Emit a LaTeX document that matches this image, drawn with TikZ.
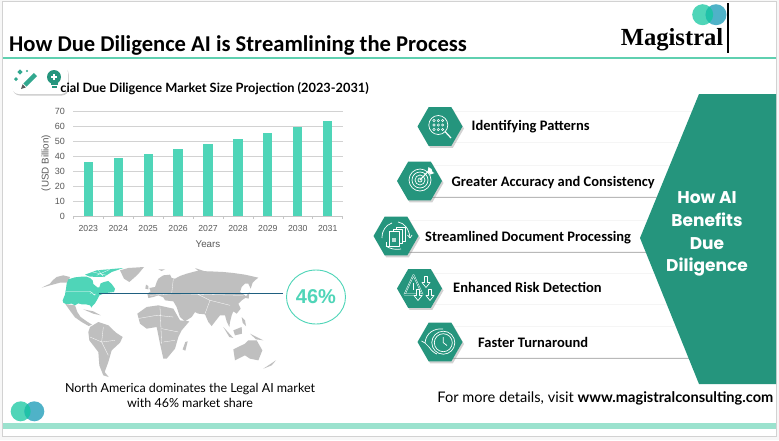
\documentclass[tikz,border=0pt]{standalone}
\usepackage{fontspec}
\setmainfont{Lato}
\newfontfamily\headfont{Carlito}
\newfontfamily\logofont{Liberation Serif}
\newfontfamily\chartfont{Liberation Sans}
\newfontfamily\sidefont{Poppins}
\usetikzlibrary{positioning,shapes.geometric,shadows}
\definecolor{mint}{HTML}{4FD5B8}
\definecolor{deepteal}{HTML}{25957D}
\definecolor{skyteal}{HTML}{4FB2C8}
\definecolor{overlapteal}{HTML}{20C2A8}
\definecolor{ruleteal}{HTML}{5FD0B0}
\definecolor{palemint}{HTML}{9BE2CE}
\definecolor{mapgray}{HTML}{BFBFBF}
\definecolor{tickgray}{HTML}{595959}
\definecolor{leadblue}{HTML}{1F6080}
\tikzstyle{hexbadge} = [regular polygon,regular polygon sides=6,minimum size=45pt,inner sep=0pt,fill=deepteal,drop shadow={shadow xshift=1.5pt,shadow yshift=-2pt,opacity=.35}]
\tikzstyle{rowbar} = [rectangle,anchor=west,fill=white,draw=gray!8,minimum height=31pt,inner sep=0pt,drop shadow={shadow xshift=0pt,shadow yshift=-1.4pt,opacity=.55}]
\tikzstyle{rowlabel} = [anchor=base west,inner sep=0pt,font=\headfont\bfseries\fontsize{14.5}{16}\selectfont]
\tikzstyle{yeartick} = [anchor=center,inner sep=0pt,text=tickgray,font=\chartfont\fontsize{8.7}{10}\selectfont]
\tikzstyle{axisname} = [inner sep=0pt,text=tickgray,font=\chartfont\fontsize{9.8}{11}\selectfont]
\tikzstyle{iconline} = [draw=white,line width=.7pt,line join=round]
\tikzstyle{land} = [fill=mapgray]
\tikzstyle{border} = [draw=white,line width=.3pt]
\begin{document}
\begin{tikzpicture}[x=1pt,y=-1pt]
   \useasboundingbox (0,0) rectangle (779,440);
   \fill[black!3] (0,0) rectangle (779,440);
   \draw[gray!35,fill=white,line width=.9pt] (2.5,1.5) rectangle (776.5,436.5);

   \node[anchor=base west,inner sep=0pt,font=\headfont\bfseries\fontsize{22.6}{26}\selectfont] (title) at (9,51) {How Due Diligence AI is Streamlining the Process};
   \fill[ruleteal] (3,57) rectangle (776,59.4);
   \fill[mint] (702.7,14.7) circle (10.5pt);
   \fill[skyteal] (716,14.7) circle (10.5pt);
   \begin{scope}
      \clip (702.7,14.7) circle (10.5pt);
      \fill[overlapteal] (716,14.7) circle (10.5pt);
   \end{scope}
   \node[anchor=base east,inner sep=0pt,font=\logofont\bfseries\fontsize{24.6}{26}\selectfont] (logo) at (723.5,45) {Magistral};
   \draw[black,line width=1.2pt] (728,3) -- (728,53);

   \node[rectangle,rounded corners=7pt,fill=white,minimum width=56pt,minimum height=28pt,drop shadow={shadow xshift=.8pt,shadow yshift=-1.5pt,opacity=.4}] (toolbox) at (40,80) {};
   \node[anchor=base east,inner sep=0pt,font=\bfseries\fontsize{12.8}{14}\selectfont] (charttitle) at (369,92) {cial Due Diligence Market Size Projection (2023-2031)};
   \draw[deepteal!70!mint,line width=4.5pt] (35.5,74.5) -- (25,85);
   \fill[tickgray] (21,89) -- (22.6,84.2) -- (25.8,87.4) -- cycle;
   \foreach \sx/\sy/\sr in {20/72/2.6,16/79/2,27/71/1.2}
      \fill[deepteal!70!mint] (\sx-\sr,\sy) -- (\sx,\sy-\sr) -- (\sx+\sr,\sy) -- (\sx,\sy+\sr) -- cycle;
   \fill[deepteal] (54,77) circle (7pt);
   \fill[deepteal] (50.5,82) rectangle (57.5,85);
   \fill[deepteal] (51.5,86.2) rectangle (56.5,88.2);
   \draw[white,line width=1.2pt] (51,77) -- (57,77) (54,74) -- (54,80);

   \foreach \v in {10,20,...,70}
      \draw[gray!35,line width=.7pt] (73.3,216.3-\v*1.494) -- (342.7,216.3-\v*1.494);
   \foreach \v in {0,10,...,70}
      \node[yeartick,anchor=east,font=\chartfont\fontsize{9}{10}\selectfont] (ytick\v) at (65,216-\v*1.494) {\v};
   \draw[gray!45,line width=.7pt] (73.3,216.3) -- (342.7,216.3);
   \foreach \i in {0,...,9}
      \draw[gray!45,line width=.5pt] (73.3+\i*29.93,216.3) -- (73.3+\i*29.93,218.6);
   \foreach \i/\yr/\v in {0/2023/36.3,1/2024/39,2/2025/41.7,3/2026/45,4/2027/48.4,5/2028/51.7,6/2029/55.7,7/2030/59.7,8/2031/63.8}{
      \fill[mint] (88.3+\i*29.93-4.6,216.3) rectangle (88.3+\i*29.93+4.6,216.3-\v*1.494);
      \node[yeartick] (year\yr) at (88.3+\i*29.93,228.7) {\yr};
   }
   \node[axisname] (xname) at (208,243.7) {Years};
   \node[axisname,rotate=90] (yname) at (46,163) {(USD Billion)};

   \begin{scope}[shift={(40,262)},scale=1/3]
      \fill[land] (5,77) -- (30,65) -- (38,55) -- (50,45) -- (70,40) -- (90,45) -- (84,62) -- (60,62) -- (45,66) -- cycle;
      \fill[land] (240,25) -- (265,18) -- (312,15) -- (298,32) -- (285,45) -- (268,60) -- (252,50) -- cycle;
      \fill[land] (76,126) -- (105,130) -- (112,150) -- (122,165) -- (140,178) -- (156,188) -- (146,192) -- (125,180) -- (105,166) -- (90,146) -- cycle;
      \fill[land] (130,142) -- (160,148) -- (182,160) -- (160,155) -- cycle;
      \fill[land] (150,195) -- (175,180) -- (205,190) -- (228,212) -- (248,225) -- (240,242) -- (215,265) -- (205,300) -- (194,330) -- (206,345) -- (190,340) -- (178,310) -- (175,270) -- (148,235) -- (145,210) -- cycle;
      \fill[mint] (85,52) -- (105,46) -- (125,44) -- (140,44) -- (150,48) -- (158,55) -- (160,66) -- (172,76) -- (178,76) -- (182,64) -- (192,60) -- (205,57) -- (215,66) -- (225,80) -- (222,90) -- (205,92) -- (190,95) -- (178,100) -- (172,112) -- (165,124) -- (157,132) -- (155,137) -- (150,130) -- (138,127) -- (125,127) -- (115,124) -- (105,130) -- (95,125) -- (78,126) -- (70,122) -- (68,115) -- (75,98) -- (78,80) -- (80,65) -- cycle;
      \fill[mint] (135,38) -- (170,25) -- (250,18) -- (215,30) -- (192,45) -- (150,44) -- cycle;
      \draw[border] (78,88) -- (150,88) -- (165,100) (150,28) -- (200,40) (175,25) -- (190,44) (210,22) -- (170,40) (150,94) -- (158,92) (160,98) -- (168,96);
      \draw[border] (190,195) -- (185,240) -- (205,280) (150,225) -- (185,240) -- (225,235);
   \end{scope}
   \begin{scope}[shift={(130,262)},scale=1/3]
      \fill[land] (22,155) -- (50,135) -- (85,130) -- (130,140) -- (150,175) -- (178,178) -- (155,205) -- (145,225) -- (135,260) -- (110,290) -- (100,290) -- (90,245) -- (80,195) -- (50,200) -- (30,185) -- cycle;
      \fill[land] (55,108) -- (52,95) -- (62,88) -- (58,78) -- (75,75) -- (80,60) -- (85,50) -- (100,40) -- (120,38) -- (125,48) -- (135,50) -- (150,42) -- (170,35) -- (200,27) -- (240,28) -- (280,30) -- (310,33) -- (345,38) -- (385,47) -- (375,55) -- (368,62) -- (362,80) -- (355,65) -- (345,65) -- (335,75) -- (330,90) -- (345,100) -- (350,105) -- (335,115) -- (325,125) -- (332,140) -- (320,155) -- (310,148) -- (305,160) -- (300,180) -- (298,195) -- (290,178) -- (285,160) -- (270,160) -- (262,170) -- (245,192) -- (235,180) -- (225,157) -- (205,155) -- (195,150) -- (185,165) -- (165,178) -- (150,165) -- (140,135) -- (130,118) -- (105,115) -- (100,106) -- (85,100) -- (70,105) -- cycle;
      \fill[land] (48,68) -- (55,72) -- (55,82) -- (46,80) -- cycle;
      \fill[land] (345,107) -- (358,90) -- (356,110) -- cycle;
      \fill[land] (166,240) -- (173,238) -- (166,266) -- (158,262) -- cycle;
      \fill[land] (280,195) -- (310,228) -- (298,225) -- cycle;
      \fill[land] (310,205) -- (335,195) -- (336,215) -- (315,220) -- cycle;
      \fill[land] (335,165) -- (345,175) -- (348,192) -- (338,182) -- cycle;
      \fill[land] (360,215) -- (400,235) -- (378,232) -- cycle;
      \fill[land] (310,262) -- (345,245) -- (355,235) -- (380,235) -- (397,265) -- (385,295) -- (360,290) -- (345,280) -- (315,295) -- cycle;
      \fill[land] (400,320) -- (438,295) -- (425,310) -- cycle;
      \fill[land] (85,22) -- (105,22) -- (95,27) -- cycle;
      \fill[land] (195,18) -- (225,28) -- (205,27) -- cycle;
      \draw[border] (22,170) -- (80,160) -- (130,165) (90,135) -- (95,245) (95,200) -- (145,210) (60,100) -- (130,95) -- (340,100) (225,155) -- (240,115) -- (300,130) (100,240) -- (135,235) (130,50) -- (125,95) (240,115) -- (200,95);
   \end{scope}

   \node[ellipse,draw=mint,line width=.9pt,minimum width=59pt,minimum height=54pt,inner sep=0pt,text=mint,font=\chartfont\bfseries\fontsize{20}{24}\selectfont] (share) at (316,297) {46\%};
   \coordinate (usa) at (99.3,293.3);
   \draw[leadblue,line width=.9pt,shorten >=3.5pt] (usa) -- (usa -| share.west);
   \node[align=center,inner sep=0pt,font=\fontsize{12.5}{15}\selectfont] (mapnote) at (190,395.5) {North America dominates the Legal AI market\\with 46\% market share};

   \foreach \n/\hx/\hy/\lx/\ly/\txt in {patterns/440/126.5/471.5/130/Identifying Patterns,accuracy/419.5/181/451.5/186/Greater Accuracy and Consistency,documents/396/236/425/241/Streamlined Document Processing,risk/419.5/288.5/453/292/Enhanced Risk Detection,turnaround/440/342/478/347/Faster Turnaround}{
      \node[rowbar,minimum width={(720-\hx)*1pt}] (bar\n) at (\hx,\hy) {};
      \node[hexbadge] (hex\n) at (\hx,\hy) {};
      \node[rowlabel] (label\n) at (\lx,\ly) {\txt};
   }

   \fill[deepteal] (699,94) -- (776,94) -- (776,384) -- (699,384) -- (640,238) -- cycle;
   \node[align=center,inner sep=0pt,text=white,font=\sidefont\bfseries\fontsize{17}{22.8}\selectfont] (benefits) at (707,234) {How AI\\Benefits\\Due\\Diligence};

   \begin{scope}[shift={(hexpatterns.center)}]
      \draw[iconline] (-1.7,-1.5) circle (9.5pt);
      \draw[iconline,line width=1.2pt] (5,5) -- (11,11.5);
      \foreach \dx in {-6,-1.7,2.6}
         \foreach \dy in {-6,-1.5,3}
            \draw[white,line width=.5pt] (\dx,\dy) circle (1.2pt);
   \end{scope}
   \begin{scope}[shift={(hexaccuracy.center)}]
      \foreach \r in {2,5,8,11}
         \draw[iconline] (.5,-1) circle (\r pt);
      \draw[iconline,line width=1.1pt] (.5,-1) -- (10,-11);
      \fill[white] (8,-9) -- (9,-14) -- (12,-12) -- (13,-9) -- (15,-8) -- (11,-6.5) -- cycle;
   \end{scope}
   \begin{scope}[shift={(hexdocuments.center)}]
      \draw[iconline] (-14,2) .. controls (-14,-6) and (-10,-11) .. (-4,-13);
      \draw[iconline] (-10,10) .. controls (-6,13) and (0,14) .. (5,13);
      \draw[iconline] (2,-14) .. controls (8,-13) and (13,-8) .. (14,2);
      \draw[iconline] (14,2) -- (11.5,-1) (14,2) -- (16,-1);
      \draw[iconline] (-10,10) -- (-10,6) (-10,10) -- (-6,10);
      \draw[iconline,fill=deepteal] (0,-9) rectangle (9,5);
      \draw[iconline,fill=deepteal] (-3,-7) rectangle (6,7);
      \draw[iconline,fill=deepteal] (-7,-5) rectangle (3,10);
      \fill[white,opacity=.7] (-4,2) rectangle (0,6);
   \end{scope}
   \begin{scope}[shift={(hexrisk.center)}]
      \draw[iconline,line width=1.6pt] (-6,-13.5) -- (-15,6) -- (3,6) -- cycle;
      \draw[deepteal,line width=.6pt] (-6,-13.5) -- (-15,6) -- (3,6) -- cycle;
      \draw[white,line width=1.1pt] (-6,-6) -- (-6,1);
      \foreach \ax/\ay in {6.5/-12,10.5/1,-1.5/1}
         \draw[iconline,fill=deepteal] (\ax-1.5,\ay) -- (\ax+1.5,\ay) -- (\ax+1.5,\ay+6) -- (\ax+4,\ay+6) -- (\ax,\ay+11) -- (\ax-4,\ay+6) -- (\ax-1.5,\ay+6) -- cycle;
   \end{scope}
   \begin{scope}[shift={(hexturnaround.center)}]
      \draw[iconline] (-15,1) .. controls (-14,-9) and (-6,-14) .. (3,-13);
      \draw[iconline] (-15,1) -- (-18.5,-1) (-15,1) -- (-11,5) .. controls (-9,8) and (-6,11) .. (-3,12);
      \draw[iconline,fill=deepteal] (3.3,.7) circle (11.5pt);
      \draw[iconline] (3.3,.7) circle (9pt);
      \draw[iconline] (3.3,-5) -- (3.3,.7) -- (7,3.5);
   \end{scope}

   \node[anchor=base east,inner sep=0pt,font=\fontsize{14.6}{16}\selectfont] (footer) at (773.5,402.5) {For more details, visit \textbf{www.magistralconsulting.com}};
   \fill[palemint] (3,423) rectangle (776,429);
   \fill[mint] (20.7,411.3) circle (10pt);
   \fill[skyteal] (34.3,411.3) circle (10pt);
   \begin{scope}
      \clip (20.7,411.3) circle (10pt);
      \fill[overlapteal] (34.3,411.3) circle (10pt);
   \end{scope}
\end{tikzpicture}
\end{document}
